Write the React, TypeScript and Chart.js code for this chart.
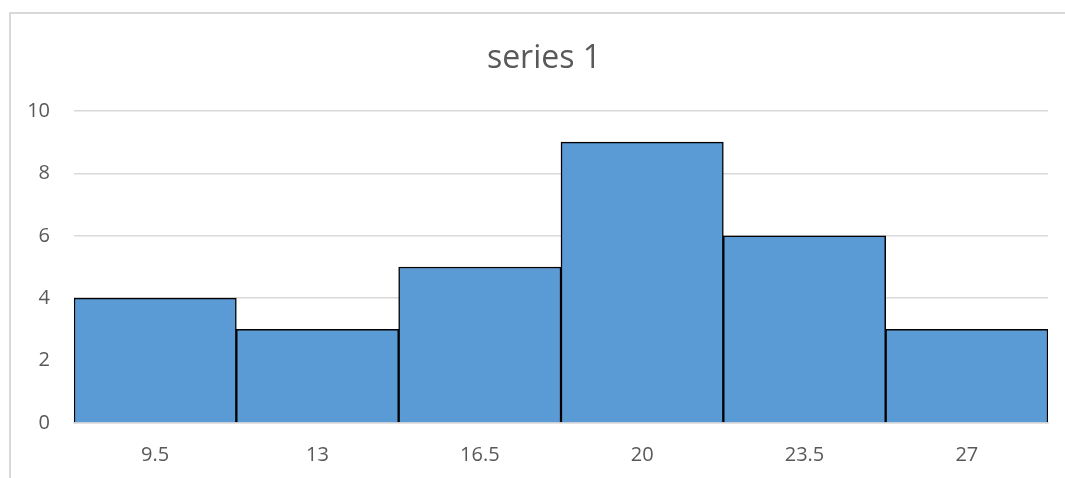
import React, { useEffect, useRef } from "react";
import { Chart, registerables } from "chart.js";

Chart.register(...registerables);

const categories = ["9.5", "13", "16.5", "20", "23.5", "27"];
const seriesValues = [4, 3, 5, 9, 6, 3];
const seriesName = "series 1";
const yTicks = [0, 2, 4, 6, 8, 10];

const FONT = "'Open Sans', 'Liberation Sans', sans-serif";
const TEXT = "#595959";
const GRID = "#D9D9D9";

const titleShift = {
  id: "titleShift",
  afterLayout(chart: any) {
    const t = chart.titleBlock;
    if (t) t.left += 20;
  },
};

export default function App() {
  const ref = useRef<HTMLCanvasElement | null>(null);

  useEffect(() => {
    if (!ref.current) return;
    const chart = new Chart(ref.current, {
      type: "bar",
      data: {
        labels: categories,
        datasets: [
          {
            label: seriesName,
            data: seriesValues,
            backgroundColor: "#5B9BD5",
            borderColor: "#000000",
            borderWidth: 1.5,
            barPercentage: 1,
            categoryPercentage: 1,
          },
        ],
      },
      plugins: [titleShift],
      options: {
        animation: false,
        responsive: false,
        maintainAspectRatio: false,
        layout: { padding: { left: 20, right: 17, top: 40, bottom: 0 } },
        plugins: {
          legend: { display: false },
          tooltip: { enabled: false },
          title: {
            display: true,
            text: seriesName,
            color: TEXT,
            font: { family: FONT, size: 32, weight: "normal" },
            padding: { top: 0, bottom: 32.6 },
          },
        },
        scales: {
          x: {
            grid: { display: false, drawTicks: false },
            border: { display: true, color: GRID, width: 1.5 },
            ticks: {
              color: TEXT,
              font: { family: FONT, size: 20 },
              padding: 20,
              maxRotation: 0,
            },
            afterFit: (s: any) => {
              s.height = 55;
            },
          },
          y: {
            min: yTicks[0],
            max: yTicks[yTicks.length - 1],
            ticks: {
              stepSize: 2,
              color: TEXT,
              font: { family: FONT, size: 20 },
              padding: 24,
            },
            grid: { color: GRID, lineWidth: 1.5, drawTicks: false },
            border: { display: false },
            afterFit: (s: any) => {
              s.width = 54;
            },
          },
        },
      },
    });
    return () => chart.destroy();
  }, []);

  return (
    <div
      style={{
        position: "fixed",
        left: 0,
        top: 0,
        width: 1065,
        height: 478,
        overflow: "hidden",
        background: "#fff",
      }}
    >
      <div
        style={{
          position: "absolute",
          left: 9,
          top: 12,
          width: 2000,
          height: 2000,
          border: "2px solid #D9D9D9",
        }}
      />
      <canvas
        ref={ref}
        width={1065}
        height={478}
        style={{ position: "absolute", left: 0, top: 0, width: 1065, height: 478 }}
      />
    </div>
  );
}
